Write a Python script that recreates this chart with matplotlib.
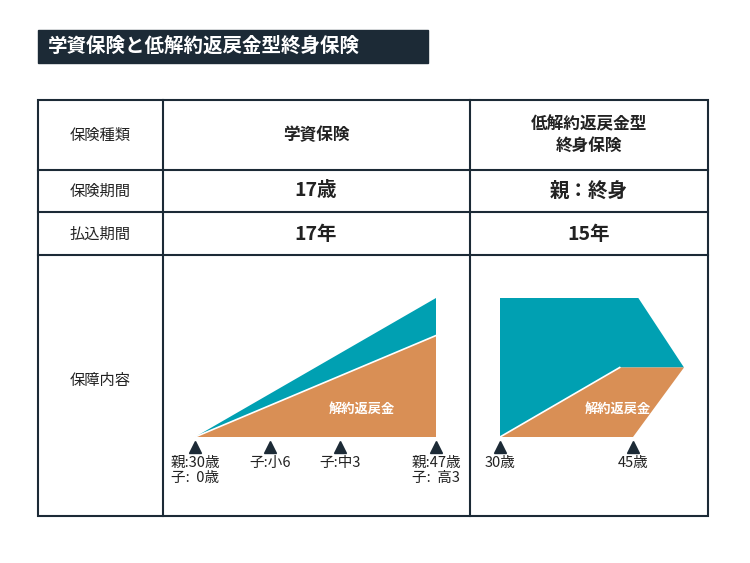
import matplotlib
matplotlib.use("Agg")
import matplotlib.pyplot as plt
from matplotlib.patches import Rectangle

plt.rcParams["font.family"] = "Noto Sans CJK JP"

title = "学資保険と低解約返戻金型終身保険"
row_heads = ["保険種類", "保険期間", "払込期間", "保障内容"]
col1 = ["学資保険", "17歳", "17年"]
col2 = ["低解約返戻金型\n終身保険", "親：終身", "15年"]

# left chart: years since start vs coverage
left_years = [0, 17]
left_death = [0, 1.0]
left_surrender = [0, 0.73]
left_marks = [0, 5.3, 10.2, 17]
left_mark_labels = ["親:30歳\n子:  0歳", "子:小6", "子:中3", "親:47歳\n子:  高3"]

# right chart: age vs coverage
right_death_x = [30, 30, 45.6, 50.75, 43.5]
right_death_y = [0, 1.0, 1.0, 0.5, 0.5]
right_surr_x = [30, 43.5, 50.75, 45]
right_surr_y = [0, 0.5, 0.5, 0]
right_marks = [30, 45]
right_mark_labels = ["30歳", "45歳"]

TEAL = "#00a0b2"
ORANGE = "#d98f55"
DARK = "#1c2a36"

W, H = 750, 563
fig = plt.figure(figsize=(W/100, H/100), dpi=100)
ax = fig.add_axes([0, 0, 1, 1])
ax.set_xlim(0, W); ax.set_ylim(H, 0); ax.axis("off")

ax.add_patch(Rectangle((38, 30), 390, 33, color=DARK))
ax.text(48, 46, title, color="white", fontsize=14, fontweight="bold", va="center")

lw = 1.5
ax.add_patch(Rectangle((38, 100), 670, 416, fill=False, ec=DARK, lw=lw))
for x in [163, 470]:
    ax.plot([x, x], [100, 516], color=DARK, lw=lw)
for y in [170, 212, 255]:
    ax.plot([38, 708], [y, y], color=DARK, lw=lw)

rows_y = [135, 191, 234, 380]
for y, t in zip(rows_y, row_heads):
    ax.text(100, y, t, ha="center", va="center", fontsize=11, color="#222")
for i, (a, b) in enumerate(zip(col1, col2)):
    fs = 12 if i == 0 else 14
    ax.text(316, rows_y[i], a, ha="center", va="center", fontsize=fs, fontweight="bold", color="#222")
    ax.text(589, rows_y[i], b, ha="center", va="center", fontsize=fs, fontweight="bold", color="#222", linespacing=1.2)

def px_axes(x0, x1, y0, y1):
    return fig.add_axes([x0/W, 1-y1/H, (x1-x0)/W, (y1-y0)/H])

# left
la = px_axes(195, 436, 298, 437)
la.set_xlim(0, 17); la.set_ylim(0, 1); la.axis("off")
la.fill([left_years[0], left_years[1], left_years[1]], [0, left_death[1], left_surrender[1]], color=TEAL, lw=0)
la.fill([left_years[0], left_years[1], left_years[1]], [0, left_surrender[1], 0], color=ORANGE, lw=0)
la.plot(left_years, left_surrender, color="white", lw=1.2)
la.text(11.8, 0.2, "解約返戻金", color="white", fontsize=9.5, fontweight="bold", ha="center", va="center")

lm = px_axes(195, 436, 440, 500)
lm.set_xlim(0, 17); lm.set_ylim(60, 0); lm.axis("off")
for m, t in zip(left_marks, left_mark_labels):
    lm.plot(m, 7, marker="^", color=DARK, ms=9, clip_on=False)
    lm.text(m, 16, t, ha="center", va="top", fontsize=10.5, color="#222", linespacing=1.1)

# right
ra = px_axes(500, 684, 298, 437)
ra.set_xlim(30, 50.75); ra.set_ylim(0, 1); ra.axis("off")
ra.fill(right_death_x, right_death_y, color=TEAL, lw=0)
ra.fill(right_surr_x, right_surr_y, color=ORANGE, lw=0)
ra.plot(right_surr_x[:2], right_surr_y[:2], color="white", lw=1.2)
ra.text(43.3, 0.2, "解約返戻金", color="white", fontsize=9.5, fontweight="bold", ha="center", va="center")

rm = px_axes(500, 684, 440, 500)
rm.set_xlim(30, 50.75); rm.set_ylim(60, 0); rm.axis("off")
for m, t in zip(right_marks, right_mark_labels):
    rm.plot(m, 7, marker="^", color=DARK, ms=9, clip_on=False)
    rm.text(m, 16, t, ha="center", va="top", fontsize=10.5, color="#222")

fig.savefig("out.png", dpi=100, facecolor="white")
